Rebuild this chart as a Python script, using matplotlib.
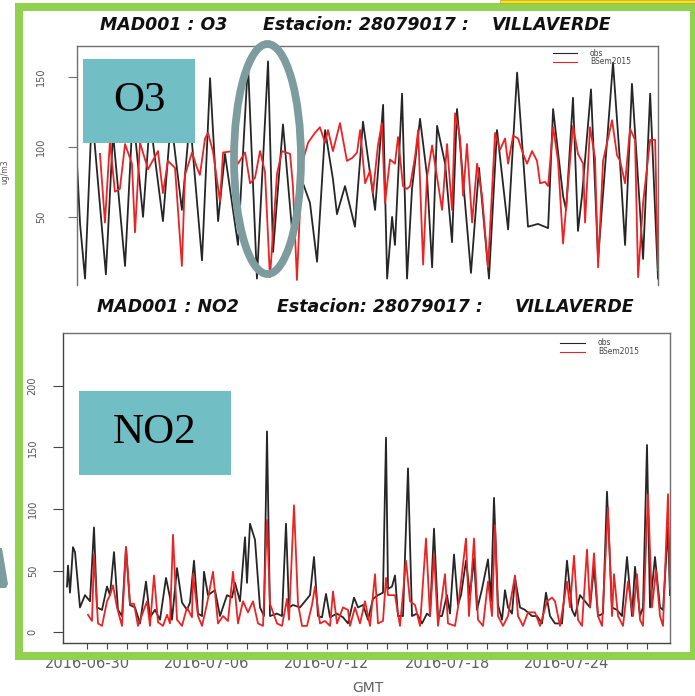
import matplotlib
matplotlib.use("Agg")
import matplotlib.pyplot as plt
from matplotlib.patches import Rectangle, Ellipse, Polygon
import numpy as np

# ---------------- data (days since 2016-06-30 00:00 GMT, ug/m3) ----------------
o3_obs_t = [-1.20, -1.04, -0.78, -0.42, 0.31, 0.68, 1.31, 1.72, 2.25, 2.61, 3.29, 3.71, 4.28, 4.70,
            5.33, 5.75, 6.17, 6.53, 7.21, 7.73, 8.20, 8.78, 9.04, 9.56, 10.03, 10.45, 10.97, 11.34,
            11.76, 12.17, 12.38, 12.80, 13.32, 13.74, 14.11, 14.37, 14.79, 15.00, 15.26, 15.41,
            15.78, 16.04, 16.30, 16.72, 17.08, 17.35, 17.61, 18.03, 18.39, 18.65, 19.07, 19.38,
            19.80, 20.32, 20.74, 21.32, 21.79, 22.36, 22.88, 23.41, 23.67, 24.19, 24.35, 24.71,
            24.97, 25.18, 25.65, 26.02, 26.80, 27.17, 27.43, 27.79, 28.37, 28.74, 29.15]
o3_obs_v = [88, 45, 6, 125, 9, 110, 15, 125, 50, 120, 47, 120, 55, 120,
            19, 149, 47, 95, 30, 160, 6, 161, 25, 116, 41, 80, 60, 18,
            112, 77, 52, 72, 43, 118, 81, 55, 130, 6, 50, 30,
            138, 6, 70, 120, 80, 14, 115, 88, 32, 127, 60, 10,
            85, 6, 112, 41, 153, 43, 45, 42, 127, 65, 55, 135,
            40, 65, 141, 20, 160, 88, 30, 145, 20, 138, 6]

o3_mod_t = [0.00, 0.26, 0.52, 0.78, 1.04, 1.31, 1.67, 1.83, 2.09, 2.51, 3.03, 3.29, 3.55, 3.92,
            4.28, 4.44, 4.81, 5.07, 5.22, 5.49, 5.64, 5.90, 6.27, 6.43, 6.95, 7.21, 7.58, 7.84,
            8.10, 8.36, 8.62, 8.88, 9.25, 9.51, 9.93, 10.08, 10.29, 10.55, 10.87, 11.23, 11.49,
            11.76, 11.91, 12.17, 12.54, 12.90, 13.17, 13.43, 13.59, 13.85, 14.11, 14.26, 14.52,
            14.73, 14.89, 15.15, 15.41, 15.57, 15.83, 16.04, 16.20, 16.46, 16.62, 16.88, 17.08,
            17.35, 17.50, 17.87, 18.13, 18.39, 18.55, 18.81, 18.97, 19.17, 19.44, 19.70, 19.96,
            20.27, 20.64, 20.90, 21.16, 21.32, 21.58, 21.84, 22.10, 22.31, 22.57, 22.83, 22.99,
            23.25, 23.41, 23.67, 23.93, 24.19, 24.40, 24.71, 24.97, 25.24, 25.34, 25.60, 25.86,
            26.02, 26.28, 26.75, 27.01, 27.17, 27.43, 27.69, 27.95, 28.11, 28.37, 28.74, 29.00, 29.15]
o3_mod_v = [95, 46, 104, 68, 70, 102, 88, 39, 103, 84, 97, 67, 90, 85,
            15, 80, 96, 85, 80, 106, 110, 97, 61, 96, 97, 88, 96, 74,
            78, 97, 82, 7, 81, 97, 95, 72, 5, 88, 103, 110, 114,
            103, 112, 97, 117, 90, 92, 96, 112, 74, 83, 67, 101,
            117, 60, 91, 88, 107, 72, 70, 72, 93, 112, 16, 78,
            101, 88, 55, 102, 55, 124, 107, 65, 102, 46, 88, 65,
            14, 110, 98, 106, 88, 108, 106, 95, 88, 97, 90, 74,
            75, 72, 114, 90, 31, 65, 115, 95, 88, 46, 114, 92,
            14, 90, 119, 94, 90, 74, 113, 105, 7, 60, 105, 105, 12]

no2_obs_t = [-1.00, -0.95, -0.85, -0.70, -0.60, -0.35, -0.10, 0.15, 0.35, 0.50, 0.75, 1.00, 1.15,
             1.35, 1.55, 1.75, 1.95, 2.15, 2.40, 2.65, 2.95, 3.15, 3.40, 3.65, 3.95, 4.15, 4.25,
             4.50, 4.75, 5.00, 5.15, 5.35, 5.55, 5.75, 5.85, 6.05, 6.40, 6.65, 7.00, 7.25, 7.40,
             7.65, 7.90, 8.00, 8.15, 8.40, 8.65, 8.85, 9.00, 9.15, 9.50, 9.75, 9.95, 10.10, 10.30,
             10.65, 10.90, 11.15, 11.35, 11.55, 11.75, 11.95, 12.15, 12.50, 12.80, 13.05, 13.35,
             13.55, 13.80, 14.05, 14.30, 14.55, 14.80, 14.95, 15.05, 15.25, 15.40, 15.55, 15.80,
             16.05, 16.25, 16.50, 16.75, 17.00, 17.15, 17.35, 17.55, 17.75, 18.00, 18.15, 18.35,
             18.55, 18.70, 18.95, 19.15, 19.35, 19.50, 19.75, 20.05, 20.20, 20.35, 20.55, 20.75,
             20.90, 21.05, 21.25, 21.40, 21.65, 21.90, 22.25, 22.50, 22.75, 22.95, 23.15, 23.40,
             23.75, 24.00, 24.25, 24.40, 24.65, 24.90, 25.15, 25.35, 25.55, 25.80, 26.00, 26.25,
             26.50, 26.75, 27.00, 27.25, 27.40, 27.65, 27.80, 28.00, 28.15, 28.40, 28.65, 28.80,
             29.05, 29.15]
no2_obs_v = [37, 54, 32, 69, 65, 20, 30, 25, 85, 20, 18, 37, 30,
             65, 18, 13, 69, 22, 20, 7, 41, 12, 18, 10, 44, 28, 10,
             52, 24, 18, 24, 58, 15, 13, 49, 30, 34, 13, 30, 28, 40,
             25, 77, 40, 88, 75, 20, 13, 163, 13, 15, 13, 88, 20, 22,
             20, 25, 30, 61, 13, 12, 31, 12, 15, 12, 7, 28,
             20, 22, 10, 27, 30, 32, 158, 35, 37, 46, 13, 13,
             133, 13, 15, 7, 15, 13, 84, 13, 13, 30, 15, 63,
             22, 30, 58, 30, 60, 18, 35, 59, 25, 109, 22, 10,
             34, 20, 15, 44, 20, 18, 13, 13, 7, 32, 13, 7,
             7, 58, 18, 13, 30, 25, 20, 53, 13, 15, 114, 20,
             18, 13, 61, 13, 53, 13, 20, 152, 20, 61, 20, 18,
             85, 30]

no2_mod_t = [0.05, 0.25, 0.35, 0.55, 0.75, 1.00, 1.15, 1.30, 1.50, 1.75, 1.95, 2.15, 2.35, 2.55,
             3.00, 3.15, 3.35, 3.55, 3.80, 4.00, 4.15, 4.30, 4.50, 4.75, 5.00, 5.25, 5.30, 5.55,
             5.75, 6.00, 6.30, 6.55, 6.80, 7.05, 7.30, 7.55, 7.80, 8.05, 8.30, 8.55, 8.80, 9.00,
             9.15, 9.50, 9.75, 10.00, 10.10, 10.35, 10.55, 10.75, 11.00, 11.25, 11.40, 11.65, 11.90,
             12.15, 12.30, 12.50, 12.80, 13.05, 13.15, 13.40, 13.65, 13.90, 14.15, 14.40, 14.55,
             14.80, 14.95, 15.05, 15.40, 15.65, 15.95, 16.15, 16.40, 16.65, 16.95, 17.15, 17.35,
             17.55, 17.90, 18.05, 18.40, 18.55, 18.95, 19.10, 19.35, 19.55, 19.80, 20.05, 20.25,
             20.40, 20.55, 20.80, 21.05, 21.40, 21.55, 21.80, 22.05, 22.40, 22.65, 23.00, 23.25,
             23.40, 23.65, 24.00, 24.15, 24.35, 24.55, 24.75, 25.00, 25.15, 25.35, 25.55, 25.75,
             26.05, 26.25, 26.35, 26.55, 26.80, 27.05, 27.30, 27.50, 27.65, 27.80, 28.05, 28.25,
             28.45, 28.65, 28.80, 29.05, 29.15]
no2_mod_v = [14, 9, 63, 7, 5, 25, 30, 38, 20, 5, 69, 23, 23, 5,
             25, 5, 46, 8, 5, 14, 7, 79, 10, 5, 20, 12, 47, 13,
             5, 23, 49, 7, 13, 9, 49, 7, 25, 16, 25, 7, 5, 91,
             23, 7, 5, 27, 10, 103, 23, 5, 5, 22, 37, 7, 9,
             5, 33, 7, 20, 18, 5, 20, 7, 25, 5, 47, 7,
             9, 44, 30, 30, 5, 58, 25, 22, 5, 76, 13, 63,
             5, 47, 7, 5, 20, 76, 13, 76, 10, 5, 41, 13,
             87, 13, 5, 13, 46, 13, 5, 16, 16, 5, 25, 28,
             25, 5, 41, 20, 62, 10, 5, 67, 20, 64, 13, 5,
             101, 13, 47, 13, 5, 41, 13, 47, 10, 5, 112, 20,
             50, 13, 5, 112, 35]

x_tick_days = [0, 6, 12, 18, 24]
x_tick_labels = ["2016-06-30", "2016-07-06", "2016-07-12", "2016-07-18", "2016-07-24"]
o3_yticks = [50, 100, 150]
no2_yticks = [0, 50, 100, 150, 200]
series_names = ["obs", "BSem2015"]
title_o3 = ["MAD001 : O3", "Estacion: 28079017 :", "VILLAVERDE"]
title_no2 = ["MAD001 : NO2", "Estacion: 28079017 :", "VILLAVERDE"]

# ---------------- layout helpers (pixel -> figure fraction) ----------------
W, H = 695, 696
def fx(px): return px / W
def fy(py): return 1 - py / H

OBS_C = "#262626"
MOD_C = "#ea2424"
AX_C = "#707070"
LBL_C = "#555555"
LW = 1.3

fig = plt.figure(figsize=(W / 100, H / 100), dpi=100)
fig.patch.set_facecolor("white")

XLIM = (-1.2, 29.15)

# ---------------- O3 panel ----------------
ax1 = fig.add_axes([fx(77), fy(285), fx(658) - fx(77), fy(46) - fy(285)])
ax1.plot(o3_obs_t, o3_obs_v, color=OBS_C, lw=LW, solid_joinstyle="round")
ax1.plot(o3_mod_t, o3_mod_v, color=MOD_C, lw=LW, solid_joinstyle="round")
ax1.set_xlim(*XLIM)
ax1.set_ylim(1.4, 172)
ax1.spines["bottom"].set_visible(False)
for s in ["left", "top", "right"]:
    ax1.spines[s].set_color(AX_C)
    ax1.spines[s].set_linewidth(1.0)
ax1.set_xticks([])
ax1.set_yticks(o3_yticks)
ax1.set_yticklabels([str(v) for v in o3_yticks], rotation=90, va="center")
ax1.tick_params(axis="y", length=6.5, width=0.8, color=AX_C, labelsize=7, labelcolor=LBL_C, pad=16)

# legend O3
for i, (name, c) in enumerate(zip(series_names, [OBS_C, MOD_C])):
    yy = [53, 62][i]
    fig.add_artist(plt.Line2D([fx(553), fx(577)], [fy(yy), fy(yy)], color=c, lw=0.8))
    fig.text(fx(590), fy(yy), name, fontsize=5.5, color="#444444", va="center", ha="left")

# ---------------- NO2 panel ----------------
ax2 = fig.add_axes([fx(63), fy(643), fx(670) - fx(63), fy(333) - fy(643)])
ax2.plot(no2_obs_t, no2_obs_v, color=OBS_C, lw=LW, solid_joinstyle="round")
ax2.plot(no2_mod_t, no2_mod_v, color=MOD_C, lw=LW, solid_joinstyle="round")
ax2.set_xlim(*XLIM)
ax2.set_ylim(-8.9, 243)
for s in ax2.spines.values():
    s.set_color(AX_C)
    s.set_linewidth(1.0)
ax2.spines["left"].set_color("#444444")
ax2.spines["bottom"].set_color("#444444")
ax2.set_yticks(no2_yticks)
ax2.set_yticklabels([str(v) for v in no2_yticks], rotation=90, va="center")
ax2.tick_params(axis="y", length=7.2, width=0.8, color="#444444", labelsize=7, labelcolor=LBL_C, pad=11)
days = list(range(0, 29))
ax2.set_xticks(days)
ax2.set_xticklabels([x_tick_labels[x_tick_days.index(d)] if d in x_tick_days else "" for d in days])
ax2.tick_params(axis="x", length=4, width=0.8, color="#444444", labelsize=10.5, labelcolor="#606060", pad=5.5)

for i, (name, c) in enumerate(zip(series_names, [OBS_C, MOD_C])):
    yy = [342.5, 351.5][i]
    fig.add_artist(plt.Line2D([fx(560), fx(585)], [fy(yy), fy(yy)], color=c, lw=0.8))
    fig.text(fx(598), fy(yy), name, fontsize=5.5, color="#444444", va="center", ha="left")

# ---------------- titles ----------------
tkw = dict(fontsize=12.5, fontweight="bold", fontstyle="italic", color="#111111", va="center", ha="center")
for txt, x in zip(title_o3, [164, 366, 551]):
    fig.text(fx(x), fy(25), txt, **tkw)
for txt, x in zip(title_no2, [167.5, 379.5, 574]):
    fig.text(fx(x), fy(307), txt, **tkw)

fig.text(fx(5), fy(172), "ug/m3", fontsize=5.5, rotation=90, color="#555555", ha="center", va="center")
fig.text(fx(368), fy(688), "GMT", fontsize=10, color="#606060", ha="center", va="center")

# ---------------- overlays ----------------
teal = "#71bec4"
fig.add_artist(Rectangle((fx(83), fy(143)), fx(195) - fx(83), fy(59) - fy(143),
                         transform=fig.transFigure, facecolor=teal, edgecolor="none", zorder=5))
fig.text(fx(139), fy(101), "O3", fontsize=31, family="Liberation Serif", color="black",
         ha="center", va="center", zorder=6)
fig.add_artist(Rectangle((fx(79), fy(475)), fx(231) - fx(79), fy(391) - fy(475),
                         transform=fig.transFigure, facecolor=teal, edgecolor="none", zorder=5))
fig.text(fx(155), fy(433), "NO2", fontsize=31, family="Liberation Serif", color="black",
         ha="center", va="center", zorder=6)

fig.add_artist(Ellipse((fx(267.5), fy(159)), width=67 / W, height=230 / H,
                       transform=fig.transFigure, facecolor="none", edgecolor="#7d9c9e",
                       lw=5.6, zorder=6))

# green frame
fig.add_artist(Rectangle((fx(19), fy(656)), fx(694) - fx(19), fy(6.5) - fy(656),
                         transform=fig.transFigure, facecolor="none", edgecolor="#92d050",
                         lw=5.8, zorder=7))

# left wedge (partial shape)
fig.add_artist(Polygon([(fx(0), fy(548)), (fx(2), fy(548)), (fx(8), fy(584)), (fx(6), fy(588)), (fx(0), fy(588))],
                       closed=True, transform=fig.transFigure, facecolor="#7d9c9e", edgecolor="none", zorder=7))

# top strip pieces
fig.add_artist(Rectangle((fx(500), fy(3)), fx(695) - fx(500), fy(0) - fy(3),
                         transform=fig.transFigure, facecolor="#ffe600", edgecolor="#b0a040", lw=0.5, zorder=7))

fig.savefig("out.png", dpi=100)
